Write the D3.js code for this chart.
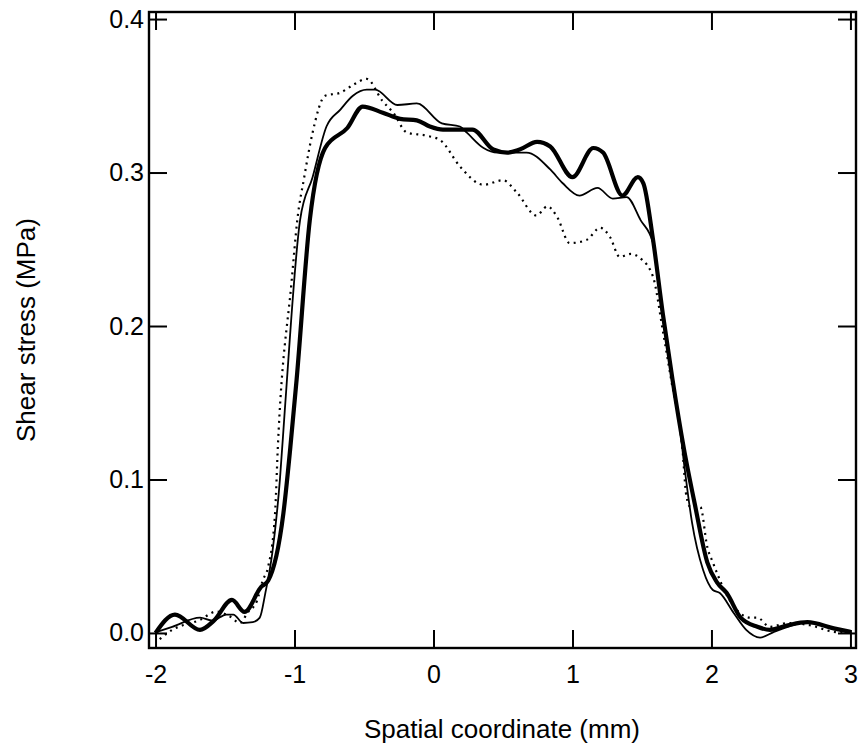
<!DOCTYPE html>
<html>
<head>
<meta charset="utf-8">
<script src="https://cdn.jsdelivr.net/npm/d3@7"></script>
<style>
  body { margin: 0; background: #fff; }
  text { font-family: "Liberation Sans", Arial, sans-serif; fill: #000; }
</style>
</head>
<body>
<svg id="chart" width="861" height="752"></svg>
<script>
// ---- data ----
var xTicks = [-2, -1, 0, 1, 2, 3];
var yTicks = [0.0, 0.1, 0.2, 0.3, 0.4];

// thick solid curve
var thickX = [-2.0, -1.86, -1.68, -1.58, -1.45, -1.36, -1.24, -1.19, -1.08, -1.03, -0.985, -0.89, -0.78, -0.62, -0.51, -0.365, -0.24, -0.12, -0.026, 0.068, 0.19, 0.28, 0.43, 0.53, 0.62, 0.745, 0.84, 1.0, 1.15, 1.22, 1.36, 1.47, 1.51, 1.58, 1.65, 1.72, 1.80, 1.88, 1.97, 2.04, 2.11, 2.21, 2.33, 2.42, 2.55, 2.69, 2.88, 3.0];
var thickY = [0.000, 0.012, 0.002, 0.008, 0.0215, 0.0137, 0.030, 0.034, 0.078, 0.121, 0.165, 0.269, 0.316, 0.329, 0.343, 0.339, 0.335, 0.334, 0.330, 0.328, 0.328, 0.328, 0.315, 0.313, 0.315, 0.320, 0.317, 0.297, 0.316, 0.313, 0.285, 0.297, 0.293, 0.256, 0.208, 0.165, 0.121, 0.084, 0.046, 0.033, 0.026, 0.010, 0.004, 0.002, 0.005, 0.007, 0.003, 0.0007];

// thin solid curve
var thinX = [-1.99, -1.88, -1.68, -1.59, -1.49, -1.44, -1.37, -1.30, -1.25, -1.21, -1.16, -1.105, -1.07, -0.96, -0.87, -0.77, -0.67, -0.58, -0.48, -0.42, -0.26, -0.12, 0.06, 0.19, 0.24, 0.36, 0.46, 0.60, 0.67, 0.84, 0.93, 1.05, 1.18, 1.29, 1.39, 1.49, 1.58, 1.64, 1.70, 1.76, 1.81, 1.86, 1.94, 2.01, 2.06, 2.16, 2.25, 2.35, 2.45, 2.55, 2.69, 2.88, 3.0];
var thinY = [0.0007, 0.004, 0.010, 0.008, 0.012, 0.012, 0.0065, 0.007, 0.010, 0.026, 0.052, 0.100, 0.145, 0.269, 0.297, 0.330, 0.341, 0.350, 0.354, 0.354, 0.344, 0.345, 0.332, 0.330, 0.326, 0.316, 0.313, 0.313, 0.313, 0.302, 0.293, 0.285, 0.290, 0.283, 0.284, 0.269, 0.254, 0.212, 0.176, 0.143, 0.105, 0.072, 0.041, 0.028, 0.026, 0.013, 0.002, -0.003, 0.0007, 0.004, 0.007, 0.003, 0.0007];

// dotted curve
var dotX = [-1.97, -1.88, -1.68, -1.56, -1.47, -1.39, -1.34, -1.27, -1.23, -1.19, -1.14, -1.12, -1.02, -0.98, -0.93, -0.87, -0.78, -0.67, -0.58, -0.48, -0.37, -0.29, -0.19, -0.05, 0.05, 0.19, 0.36, 0.50, 0.60, 0.74, 0.82, 0.89, 0.98, 1.10, 1.20, 1.27, 1.34, 1.42, 1.49, 1.58, 1.65, 1.71, 1.79, 1.82, 1.85, 1.92, 1.97, 2.01, 2.14, 2.28, 2.33, 2.42, 2.55, 2.71, 2.88, 3.0];
var dotY = [-0.004, 0.002, 0.0085, 0.014, 0.011, 0.0065, 0.013, 0.021, 0.034, 0.043, 0.078, 0.121, 0.230, 0.269, 0.297, 0.326, 0.350, 0.352, 0.357, 0.361, 0.347, 0.339, 0.326, 0.324, 0.321, 0.304, 0.292, 0.295, 0.287, 0.272, 0.278, 0.271, 0.254, 0.256, 0.264, 0.258, 0.245, 0.247, 0.244, 0.232, 0.197, 0.165, 0.121, 0.089, 0.082, 0.082, 0.056, 0.046, 0.020, 0.010, 0.010, 0.004, 0.0065, 0.005, 0.0007, 0.0];

// ---- layout ----
var svg = d3.select("#chart");
var mLeft = 149, mRight = 856, mTop = 12, mBottom = 648;
var tickLen = 18;

var x = d3.scaleLinear().domain([-2.047, 3.04]).range([mLeft, mRight]);
var y = d3.scaleLinear().domain([-0.0098, 0.4046]).range([mBottom, mTop]);

svg.append("clipPath").attr("id", "plotclip")
  .append("rect")
  .attr("x", mLeft).attr("y", mTop)
  .attr("width", mRight - mLeft).attr("height", mBottom - mTop);

function pairs(xs, ys) {
  return xs.map(function(v, i) { return [v, ys[i]]; });
}

var line = d3.line()
  .x(function(d) { return x(d[0]); })
  .y(function(d) { return y(d[1]); })
  .curve(d3.curveMonotoneX);

var plot = svg.append("g").attr("clip-path", "url(#plotclip)");

plot.append("path")
  .attr("d", line(pairs(dotX, dotY)))
  .attr("fill", "none").attr("stroke", "#000")
  .attr("stroke-width", 2.2).attr("stroke-dasharray", "2,4.5");

plot.append("path")
  .attr("d", line(pairs(thinX, thinY)))
  .attr("fill", "none").attr("stroke", "#000")
  .attr("stroke-width", 1.8);

plot.append("path")
  .attr("d", line(pairs(thickX, thickY)))
  .attr("fill", "none").attr("stroke", "#000")
  .attr("stroke-width", 4.2).attr("stroke-linejoin", "round");

// ---- axes (ticks point inward, mirrored on top/right) ----
var fmtX = function(d) { return String(d); };  // plain hyphen like the original
var fmtY = d3.format(".1f");

svg.append("g")
  .attr("transform", "translate(0," + mBottom + ")")
  .call(d3.axisBottom(x).tickValues(xTicks).tickFormat(fmtX).tickSizeInner(-tickLen).tickSizeOuter(0).tickPadding(17))
  .call(styleAxis);

svg.append("g")
  .attr("transform", "translate(" + mLeft + ",0)")
  .call(d3.axisLeft(y).tickValues(yTicks).tickFormat(fmtY).tickSizeInner(-tickLen).tickSizeOuter(0).tickPadding(5))
  .call(styleAxis);

svg.append("g")
  .attr("transform", "translate(0," + mTop + ")")
  .call(d3.axisTop(x).tickValues(xTicks).tickSizeInner(-tickLen).tickSizeOuter(0).tickFormat(""))
  .call(styleAxis);

svg.append("g")
  .attr("transform", "translate(" + mRight + ",0)")
  .call(d3.axisRight(y).tickValues(yTicks).tickSizeInner(-tickLen).tickSizeOuter(0).tickFormat(""))
  .call(styleAxis);

function styleAxis(g) {
  g.select(".domain").remove();
  g.selectAll(".tick line").attr("stroke", "#000").attr("stroke-width", 2);
  g.selectAll(".tick text").attr("font-size", 25).attr("font-family", "Liberation Sans, Arial, sans-serif").attr("fill", "#000");
}

// frame
svg.append("rect")
  .attr("x", mLeft).attr("y", mTop)
  .attr("width", mRight - mLeft).attr("height", mBottom - mTop)
  .attr("fill", "none").attr("stroke", "#000").attr("stroke-width", 2.4);

// ---- titles ----
svg.append("text")
  .attr("x", 502).attr("y", 738)
  .attr("text-anchor", "middle").attr("font-size", 26)
  .text("Spatial coordinate (mm)");

svg.append("text")
  .attr("transform", "translate(35," + ((mTop + mBottom) / 2) + ") rotate(-90)")
  .attr("text-anchor", "middle").attr("font-size", 26)
  .text("Shear stress (MPa)");
</script>
</body>
</html>
